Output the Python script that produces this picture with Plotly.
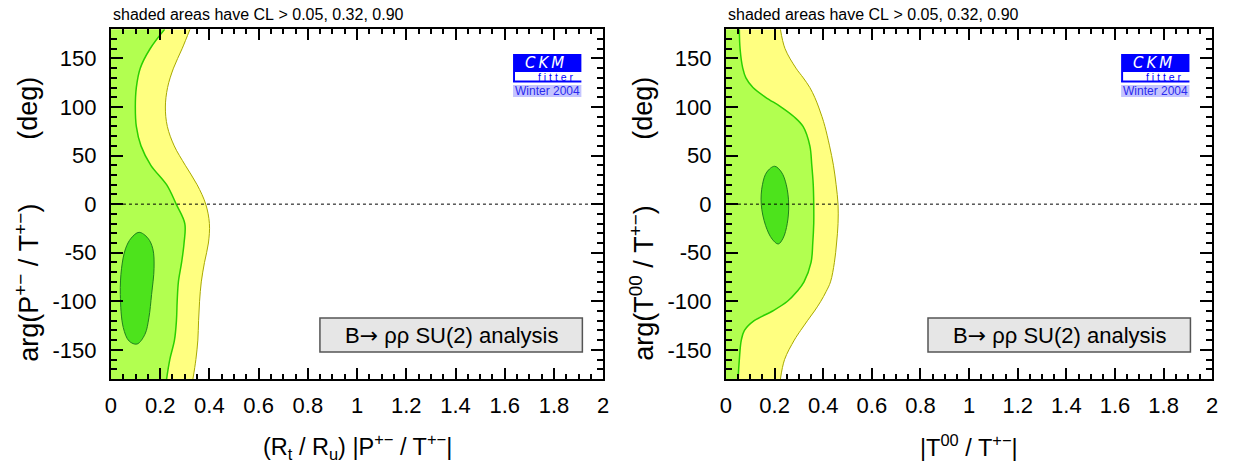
import plotly.graph_objects as go

# ---------------- data ----------------
# Left panel: (Rt/Ru)|P+-/T+-| vs arg(P+-/T+-)
left_deg = [-180, -160, -140, -120, -100, -80, -60, -40, -20, 0, 20, 40, 60, 80, 100, 120, 140, 160, 180]
left_cl005 = [0.333, 0.345, 0.353, 0.356, 0.360, 0.367, 0.380, 0.396, 0.400, 0.385, 0.350, 0.302, 0.257, 0.229, 0.221, 0.230, 0.254, 0.289, 0.321]
left_cl032 = [0.226, 0.239, 0.258, 0.266, 0.269, 0.274, 0.287, 0.297, 0.300, 0.265, 0.226, 0.162, 0.122, 0.103, 0.099, 0.103, 0.119, 0.159, 0.218]
left_cl090_x = [0.114, 0.150, 0.170, 0.175, 0.165, 0.154, 0.138, 0.106, 0.074, 0.050, 0.038, 0.043, 0.059, 0.082, 0.114]
left_cl090_deg = [-29, -35, -46, -66, -93, -117, -134, -144, -141, -127, -93, -66, -46, -35, -29]

# Right panel: |T00/T+-| vs arg(T00/T+-)
right_deg = [-180, -160, -140, -130, -120, -110, -100, -90, -80, -60, -40, -20, 0, 20, 40, 60, 80, 90, 100, 110, 120, 130, 140, 160, 180]
right_cl005 = [0.224, 0.241, 0.281, 0.307, 0.335, 0.364, 0.390, 0.412, 0.430, 0.446, 0.455, 0.461, 0.461, 0.453, 0.442, 0.426, 0.407, 0.395, 0.381, 0.365, 0.345, 0.318, 0.288, 0.243, 0.224]
right_cl032 = [0.050, 0.055, 0.063, 0.076, 0.116, 0.192, 0.253, 0.292, 0.321, 0.350, 0.357, 0.361, 0.361, 0.359, 0.353, 0.345, 0.317, 0.280, 0.227, 0.163, 0.111, 0.082, 0.069, 0.058, 0.055]
right_cl090_x = [0.200, 0.228, 0.248, 0.258, 0.252, 0.235, 0.215, 0.190, 0.163, 0.145, 0.150, 0.168, 0.200]
right_cl090_deg = [39, 33, 20, 0, -20, -35, -41, -36, -22, 0, 20, 33, 39]

x_tickvals = [0, 0.2, 0.4, 0.6, 0.8, 1, 1.2, 1.4, 1.6, 1.8, 2]
x_ticktext = ["0", "0.2", "0.4", "0.6", "0.8", "1", "1.2", "1.4", "1.6", "1.8", "2"]
y_tickvals = [-150, -100, -50, 0, 50, 100, 150]
y_ticktext = ["-150", "-100", "-50", "0", "50", "100", "150"]

NB = "\u00a0"
header = "shaded areas have CL" + NB + "&gt;" + NB + "0.05, 0.32, 0.90"
box_text = "B<span style=\"font-family:'DejaVu Sans'\">\u2192</span> \u03c1\u03c1 SU(2) analysis"
left_xtitle = "(R<sub>t</sub> / R<sub>u</sub>) |P<sup>+\u2212</sup> / T<sup>+\u2212</sup>|"
right_xtitle = "|T<sup>00</sup> / T<sup>+\u2212</sup>|"
left_ytitle = "arg(P<sup>+\u2212</sup>" + NB + "/" + NB + "T<sup>+\u2212</sup>)"
right_ytitle = "arg(T<sup>00</sup>" + NB + "/" + NB + "T<sup>+\u2212</sup>)"
unit_title = "(deg)"

# ---------------- style ----------------
W, H = 1241, 465
FONT = "Liberation Sans, Arial, Helvetica, sans-serif"
YELLOW = "#ffff80"
LGREEN = "#b2ff50"
DGREEN = "#4de31c"
YLINE = "#a8a800"
GLINE = "#2ad000"
DLINE = "#1f7f1f"

# panel pixel geometry
panels = [
    dict(x0=106, x1=603, xa="x", ya="y", xn="xaxis", yn="yaxis"),
    dict(x0=727, x1=1218, xa="x2", ya="y2", xn="xaxis2", yn="yaxis2"),
]
top_px, bot_px = 29.3, 379.0

fig = go.Figure()

def add_panel(p, deg, cl005, cl032, inx, indeg):
    fig.add_trace(go.Scatter(x=cl005, y=deg, mode="lines", fill="tozerox",
                             fillcolor=YELLOW, line=dict(color=YLINE, width=1, shape="spline", smoothing=1.0),
                             xaxis=p["xa"], yaxis=p["ya"], hoverinfo="skip", showlegend=False))
    fig.add_trace(go.Scatter(x=cl032, y=deg, mode="lines", fill="tozerox",
                             fillcolor=LGREEN, line=dict(color=GLINE, width=1.5, shape="spline", smoothing=1.0),
                             xaxis=p["xa"], yaxis=p["ya"], hoverinfo="skip", showlegend=False))
    fig.add_trace(go.Scatter(x=inx, y=indeg, mode="lines", fill="toself",
                             fillcolor=DGREEN, line=dict(color=DLINE, width=1, shape="spline", smoothing=1.0),
                             xaxis=p["xa"], yaxis=p["ya"], hoverinfo="skip", showlegend=False))
    # dotted zero line
    fig.add_trace(go.Scatter(x=[x_tickvals[0], x_tickvals[-1]], y=[0, 0], mode="lines",
                             line=dict(color="black", width=1, dash="dot"),
                             xaxis=p["xa"], yaxis=p["ya"], hoverinfo="skip", showlegend=False))

add_panel(panels[0], left_deg, left_cl005, left_cl032, left_cl090_x, left_cl090_deg)
add_panel(panels[1], right_deg, right_cl005, right_cl032, right_cl090_x, right_cl090_deg)

ydom = [1 - bot_px / H, 1 - top_px / H]

def xaxis_cfg(p):
    return dict(domain=[p["x0"] / W, p["x1"] / W], range=[0, 2], anchor=p["ya"],
                tickmode="array", tickvals=x_tickvals, ticktext=x_ticktext,
                ticks="inside", ticklen=11, tickwidth=1.6, tickcolor="black",
                minor=dict(dtick=0.05, tick0=0, ticks="inside", ticklen=5, tickwidth=1.6, tickcolor="black", showgrid=False),
                showline=True, linecolor="black", linewidth=2, mirror="allticks",
                showgrid=False, zeroline=False, fixedrange=True,
                tickfont=dict(family=FONT, size=22, color="black"), ticklabelstandoff=6)

def yaxis_cfg(p):
    return dict(domain=ydom, range=[-180, 180], anchor=p["xa"],
                tickmode="array", tickvals=y_tickvals, ticktext=y_ticktext,
                ticks="inside", ticklen=12, tickwidth=1.6, tickcolor="black",
                minor=dict(dtick=10, tick0=0, ticks="inside", ticklen=6, tickwidth=1.6, tickcolor="black", showgrid=False),
                showline=True, linecolor="black", linewidth=2, mirror="allticks",
                showgrid=False, zeroline=False, fixedrange=True,
                tickfont=dict(family=FONT, size=22, color="black"), ticklabelstandoff=8)

layout = dict(width=W, height=H, margin=dict(l=0, r=0, t=0, b=0),
              paper_bgcolor="white", plot_bgcolor="white",
              font=dict(family=FONT, color="black"), showlegend=False)
for p in panels:
    layout[p["xn"]] = xaxis_cfg(p)
    layout[p["yn"]] = yaxis_cfg(p)
fig.update_layout(**layout)

shapes = []
annots = []

def px_to_paper_x(px):
    return px / W

def px_to_paper_y(py):
    return 1 - py / H

xtitles = [left_xtitle, right_xtitle]
ytitles = [left_ytitle, right_ytitle]
for i, p in enumerate(panels):
    off = p["x0"] - panels[0]["x0"]
    # header text
    annots.append(dict(x=px_to_paper_x(p["x0"]), y=px_to_paper_y(14), xref="paper", yref="paper",
                       text=header, showarrow=False, xanchor="left", yanchor="middle",
                       font=dict(family=FONT, size=16, color="black")))
    # x title
    annots.append(dict(x=px_to_paper_x((p["x0"] + p["x1"]) / 2), y=px_to_paper_y(446), xref="paper", yref="paper",
                       text=xtitles[i], showarrow=False, xanchor="center", yanchor="middle",
                       font=dict(family=FONT, size=23.5, color="black")))
    # y title pieces
    annots.append(dict(x=px_to_paper_x(21 + off), y=px_to_paper_y(283), xref="paper", yref="paper",
                       text=ytitles[i], showarrow=False, textangle=-90, xanchor="center", yanchor="middle",
                       font=dict(family=FONT, size=27, color="black")))
    annots.append(dict(x=px_to_paper_x(22 + off), y=px_to_paper_y(108), xref="paper", yref="paper",
                       text=unit_title, showarrow=False, textangle=-90, xanchor="center", yanchor="middle",
                       font=dict(family=FONT, size=27, color="black")))
    # analysis box
    bx0 = 317 + off - (0 if i == 0 else 7)
    bx1 = bx0 + 265
    shapes.append(dict(type="rect", xref="paper", yref="paper",
                       x0=px_to_paper_x(bx0), x1=px_to_paper_x(bx1),
                       y0=px_to_paper_y(352), y1=px_to_paper_y(318),
                       fillcolor="#e6e6e6", line=dict(color="#555555", width=1.5), layer="above"))
    annots.append(dict(x=px_to_paper_x((bx0 + bx1) / 2), y=px_to_paper_y(335), xref="paper", yref="paper",
                       text=box_text, showarrow=False, xanchor="center", yanchor="middle",
                       font=dict(family=FONT, size=22, color="black")))
    # CKMfitter logo
    lx0 = 512 + off - (0 if i == 0 else 7)
    lx1 = lx0 + 69
    shapes.append(dict(type="rect", xref="paper", yref="paper",
                       x0=px_to_paper_x(lx0), x1=px_to_paper_x(lx1),
                       y0=px_to_paper_y(72), y1=px_to_paper_y(54),
                       fillcolor="#0000ff", line=dict(width=0), layer="above"))
    shapes.append(dict(type="rect", xref="paper", yref="paper",
                       x0=px_to_paper_x(lx0), x1=px_to_paper_x(lx0 + 2),
                       y0=px_to_paper_y(82), y1=px_to_paper_y(72),
                       fillcolor="#0000ff", line=dict(width=0), layer="above"))
    shapes.append(dict(type="rect", xref="paper", yref="paper",
                       x0=px_to_paper_x(lx0), x1=px_to_paper_x(lx1),
                       y0=px_to_paper_y(82.5), y1=px_to_paper_y(80.5),
                       fillcolor="#0000ff", line=dict(width=0), layer="above"))
    shapes.append(dict(type="rect", xref="paper", yref="paper",
                       x0=px_to_paper_x(lx0), x1=px_to_paper_x(lx1),
                       y0=px_to_paper_y(97), y1=px_to_paper_y(85),
                       fillcolor="#c4c4ff", line=dict(width=0), layer="above"))
    annots.append(dict(x=px_to_paper_x(lx0 + 32), y=px_to_paper_y(63), xref="paper", yref="paper",
                       text="<i>C\u2009K\u2009M</i>", showarrow=False, xanchor="center", yanchor="middle",
                       font=dict(family="DejaVu Sans, sans-serif", size=15, color="white")))
    annots.append(dict(x=px_to_paper_x(lx1 - 5), y=px_to_paper_y(76.5), xref="paper", yref="paper",
                       text="f i t t e r", showarrow=False, xanchor="right", yanchor="middle",
                       font=dict(family=FONT, size=10.5, color="#0000ff")))
    annots.append(dict(x=px_to_paper_x((lx0 + lx1) / 2), y=px_to_paper_y(91), xref="paper", yref="paper",
                       text="Winter 2004", showarrow=False, xanchor="center", yanchor="middle",
                       font=dict(family=FONT, size=12, color="#2a2aee")))

fig.update_layout(shapes=shapes, annotations=annots)
fig.write_html("out.html", config=dict(displayModeBar=False),
               post_script="document.body.style.margin='0px';document.body.style.padding='0px';")
